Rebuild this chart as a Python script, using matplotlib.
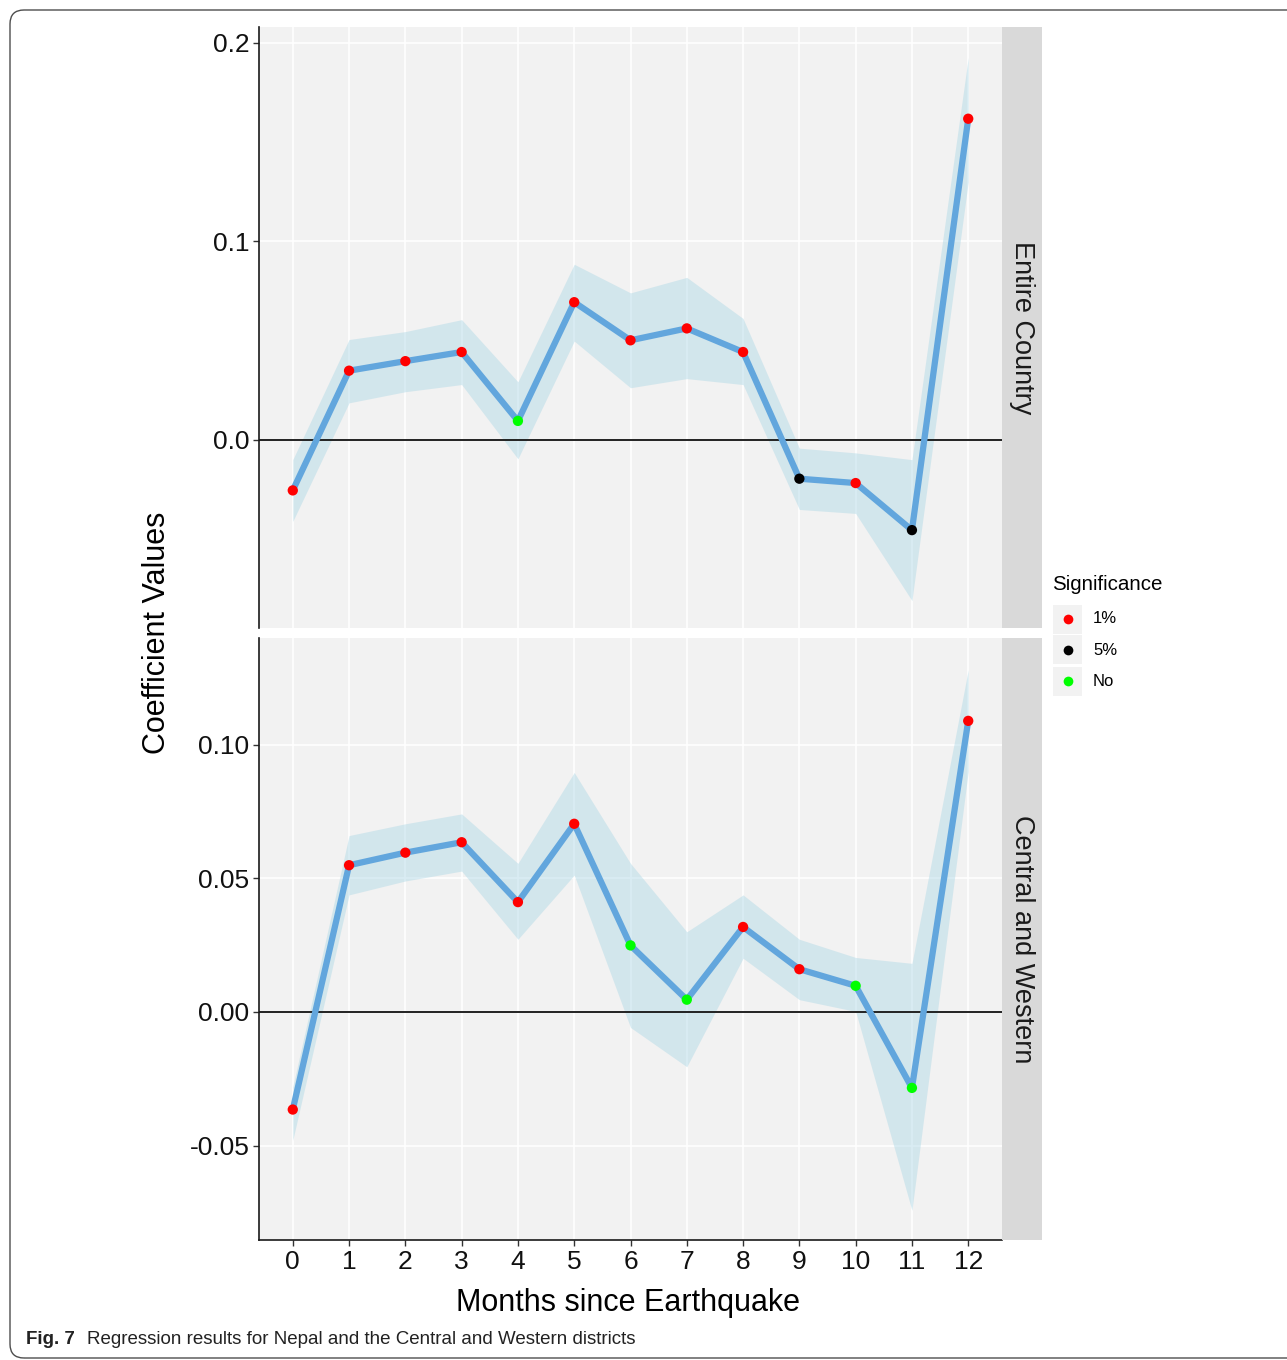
import matplotlib
matplotlib.use("Agg")
import matplotlib.pyplot as plt
from matplotlib.patches import FancyBboxPatch, Rectangle
from matplotlib.lines import Line2D

plt.rcParams['font.family'] = ['Liberation Sans', 'DejaVu Sans']

months = list(range(13))

# Entire Country
country_coef = [-0.0254, 0.0349, 0.0397, 0.0443, 0.0096, 0.0694, 0.0502,
                0.0562, 0.0443, -0.0195, -0.0217, -0.0454, 0.1618]
country_upper = [-0.0099, 0.0506, 0.0546, 0.0606, 0.0293, 0.0885, 0.0741,
                 0.0819, 0.0612, -0.0041, -0.0065, -0.0099, 0.1926]
country_lower = [-0.0410, 0.0187, 0.0243, 0.0279, -0.0095, 0.0498, 0.0263,
                 0.0309, 0.0279, -0.0350, -0.0370, -0.0809, 0.1300]
country_sig = ['1%', '1%', '1%', '1%', 'No', '1%', '1%', '1%', '1%',
               '5%', '1%', '5%', '1%']

# Central and Western
cw_coef = [-0.0365, 0.0549, 0.0596, 0.0635, 0.0411, 0.0704, 0.0249,
           0.0046, 0.0318, 0.0160, 0.0098, -0.0284, 0.1089]
cw_upper = [-0.0280, 0.0660, 0.0704, 0.0741, 0.0556, 0.0896, 0.0556,
            0.0300, 0.0438, 0.0272, 0.0204, 0.0182, 0.1280]
cw_lower = [-0.0480, 0.0438, 0.0490, 0.0527, 0.0272, 0.0512, -0.0058,
            -0.0205, 0.0201, 0.0046, 0.0002, -0.0742, 0.0900]
cw_sig = ['1%', '1%', '1%', '1%', '1%', '1%', 'No', 'No', '1%', '1%',
          'No', 'No', '1%']

sig_levels = ['1%', '5%', 'No']
sig_colors = {'1%': '#ff0000', '5%': '#000000', 'No': '#00ff00'}

panels = [
    ("Entire Country", country_coef, country_upper, country_lower, country_sig,
     [0.0, 0.1, 0.2], ['0.0', '0.1', '0.2'], (-0.0947, 0.208)),
    ("Central and Western", cw_coef, cw_upper, cw_lower, cw_sig,
     [-0.05, 0.0, 0.05, 0.10], ['-0.05', '0.00', '0.05', '0.10'], (-0.0853, 0.1399)),
]

W, H = 1287, 1360
fig = plt.figure(figsize=(W / 100, H / 100), dpi=100)

# outer rounded border
border = FancyBboxPatch((0.10, 0.02), 13.3, 13.48,
                        boxstyle="round,pad=0,rounding_size=0.14",
                        transform=fig.dpi_scale_trans, fill=False,
                        edgecolor='#4d4d4d', linewidth=1.0)
fig.patches.append(border)

def fx(px):
    return px / W

def fy(py):
    return 1 - py / H

panel_px = [(27, 628), (638, 1240)]
left_px, right_px = 259, 1002
strip_w = 40

axes = []
for i, ((name, coef, up, lo, sig, yt, ytl, ylim), (top, bot)) in enumerate(zip(panels, panel_px)):
    ax = fig.add_axes([fx(left_px), fy(bot), fx(right_px - left_px), (bot - top) / H])
    ax.set_facecolor('#f2f2f2')
    ax.set_xlim(-0.6, 12.6)
    ax.set_ylim(*ylim)
    ax.set_xticks(months)
    ax.set_yticks(yt)
    ax.set_yticklabels(ytl)
    ax.grid(True, color='white', linewidth=1.2, zorder=0)
    ax.set_axisbelow(True)
    for s in ['top', 'right']:
        ax.spines[s].set_visible(False)
    ax.spines['left'].set_linewidth(1.2)
    ax.spines['left'].set_color('#1a1a1a')
    ax.fill_between(months, lo, up, color='#add8e6', alpha=0.45, linewidth=0, zorder=1)
    ax.axhline(0, color='#222222', linewidth=1.4, zorder=2)
    ax.plot(months, coef, color='#62a6dd', linewidth=4.5, solid_capstyle='butt',
            solid_joinstyle='round', zorder=3)
    ax.scatter(months, coef, c=[sig_colors[s] for s in sig], s=55, zorder=4,
               linewidths=0)
    ax.tick_params(axis='y', labelsize=19, length=4, width=1.0, color='#333333',
                   labelcolor='#111111', pad=3)
    if i == 0:
        ax.spines['bottom'].set_visible(False)
        ax.tick_params(axis='x', bottom=False, labelbottom=False)
    else:
        ax.spines['bottom'].set_linewidth(1.2)
        ax.spines['bottom'].set_color('#1a1a1a')
        ax.tick_params(axis='x', labelsize=19, length=4, width=1.0, color='#333333',
                       labelcolor='#111111', pad=3)
        ax.set_xticklabels([str(m) for m in months])
    # strip
    sax = fig.add_axes([fx(right_px), fy(bot), fx(strip_w), (bot - top) / H])
    sax.set_facecolor('#d9d9d9')
    sax.set_xticks([])
    sax.set_yticks([])
    for s in sax.spines.values():
        s.set_visible(False)
    sax.text(0.5, 0.5, name, rotation=-90, ha='center', va='center',
             fontsize=19.5, color='#1a1a1a', transform=sax.transAxes)
    axes.append(ax)

fig.text(fx(157), fy(633), 'Coefficient Values', rotation=90, ha='center',
         va='center', fontsize=22, color='black')
fig.text(fx(628), fy(1303), 'Months since Earthquake', ha='center', va='center',
         fontsize=22, color='black')

# legend
fig.text(fx(1052), fy(585), 'Significance', ha='left', va='center',
         fontsize=14.8, color='black')
for k, lev in enumerate(sig_levels):
    cy = 619 + k * 31
    fig.patches.append(Rectangle((fx(1053), fy(cy + 14.5)), fx(29), 29 / H,
                                 transform=fig.transFigure, facecolor='#f2f2f2',
                                 edgecolor='none'))
    fig.lines.append(Line2D([fx(1067.5)], [fy(cy)], marker='o', markersize=7,
                            color=sig_colors[lev], markeredgewidth=0,
                            transform=fig.transFigure))
    fig.text(fx(1093), fy(cy), lev, ha='left', va='center', fontsize=12,
             color='black')

# caption
cap_fam = ['Liberation Sans Narrow', 'Liberation Sans', 'DejaVu Sans']
fig.text(fx(26), fy(1339), 'Fig. 7', ha='left', va='center', fontsize=13.5,
         fontweight='bold', family=cap_fam, color='#222222')
fig.text(fx(87), fy(1339), 'Regression results for Nepal and the Central and Western districts',
         ha='left', va='center', fontsize=13.5, family=cap_fam, color='#222222')

fig.savefig('out.png', dpi=100)
